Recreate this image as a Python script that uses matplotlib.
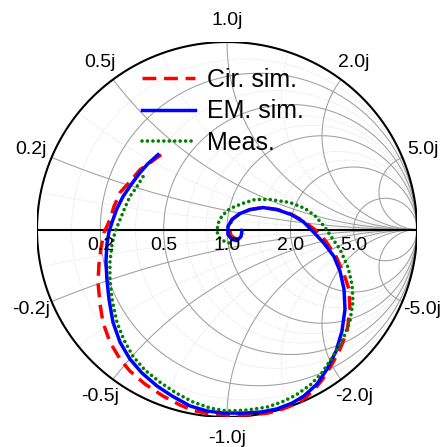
import numpy as np
import matplotlib; matplotlib.use("Agg")
import matplotlib.pyplot as plt

plt.rcParams['font.family'] = ['Liberation Sans', 'DejaVu Sans']

# reflection coefficient (re, im)
cir_re = [-0.347, -0.405, -0.458, -0.511, -0.563, -0.595, -0.616, -0.647, -0.663, -0.674,
          -0.679, -0.668, -0.653, -0.616, -0.563, -0.511, -0.432, -0.337, -0.247, -0.179,
          -0.089, 0.0, 0.105, 0.211, 0.295, 0.384, 0.453, 0.500, 0.553, 0.595,
          0.632, 0.647, 0.642, 0.616, 0.574, 0.521, 0.468, 0.405, 0.342, 0.268,
          0.189, 0.121, 0.068, 0.026, 0.011, 0.021, 0.047, 0.074, 0.089]
cir_im = [0.399, 0.356, 0.319, 0.255, 0.197, 0.122, 0.053, -0.016, -0.096, -0.186,
          -0.282, -0.399, -0.495, -0.601, -0.691, -0.755, -0.824, -0.888, -0.936, -0.965,
          -0.984, -0.990, -0.989, -0.980, -0.957, -0.920, -0.862, -0.803, -0.718, -0.638,
          -0.543, -0.426, -0.319, -0.239, -0.144, -0.064, -0.005, 0.043, 0.080, 0.106,
          0.117, 0.106, 0.085, 0.053, 0.011, -0.032, -0.053, -0.048, -0.021]

em_re = [-0.363, -0.416, -0.458, -0.505, -0.547, -0.579, -0.600, -0.621, -0.632, -0.637,
         -0.632, -0.621, -0.600, -0.563, -0.511, -0.447, -0.368, -0.289, -0.195, -0.105,
         -0.021, 0.089, 0.184, 0.263, 0.342, 0.405, 0.474, 0.526, 0.574, 0.605,
         0.621, 0.616, 0.595, 0.563, 0.511, 0.453, 0.400, 0.337, 0.263, 0.189,
         0.121, 0.068, 0.026, 0.005, 0.005, 0.026, 0.053, 0.074, 0.079]
em_im = [0.399, 0.351, 0.303, 0.239, 0.176, 0.112, 0.053, -0.011, -0.080, -0.170,
         -0.266, -0.372, -0.495, -0.601, -0.691, -0.766, -0.835, -0.888, -0.941, -0.968,
         -0.979, -0.979, -0.973, -0.957, -0.926, -0.888, -0.824, -0.745, -0.649, -0.543,
         -0.426, -0.319, -0.223, -0.144, -0.074, -0.011, 0.043, 0.080, 0.106, 0.117,
         0.106, 0.085, 0.053, 0.016, -0.027, -0.053, -0.059, -0.037, -0.005]

meas_re = [-0.442, -0.474, -0.511, -0.537, -0.563, -0.589, -0.605, -0.616, -0.616, -0.605,
           -0.579, -0.542, -0.495, -0.432, -0.353, -0.268, -0.179, -0.089, 0.0, 0.105,
           0.211, 0.289, 0.363, 0.437, 0.495, 0.558, 0.611, 0.647, 0.663, 0.658,
           0.637, 0.595, 0.558, 0.516, 0.468, 0.411, 0.332, 0.226, 0.147, 0.079,
           0.016, -0.026, -0.047, -0.053, -0.037, -0.005, 0.026]
meas_im = [0.282, 0.229, 0.176, 0.117, 0.053, -0.011, -0.080, -0.170, -0.266, -0.372,
           -0.495, -0.590, -0.676, -0.750, -0.814, -0.872, -0.920, -0.952, -0.968, -0.963,
           -0.947, -0.920, -0.883, -0.830, -0.771, -0.676, -0.585, -0.489, -0.388, -0.293,
           -0.202, -0.106, -0.053, 0.011, 0.069, 0.112, 0.144, 0.160, 0.160, 0.138,
           0.112, 0.074, 0.032, -0.011, -0.048, -0.069, -0.074]

major = [0.2, 0.5, 1.0, 2.0, 5.0]
minor_r = [0.1, 0.35, 0.65, 0.8, 1.4, 1.7]
minor_x = [0.1, 0.35, 0.7, 1.4]

def rcirc(r):
    t = np.linspace(0, 2*np.pi, 400)
    return r/(1+r) + np.cos(t)/(1+r), np.sin(t)/(1+r)

def xarc(x):
    rr = np.tan(np.linspace(0, np.pi/2*0.9995, 800))
    g = (rr + 1j*x - 1)/(rr + 1j*x + 1)
    return g.real, g.imag

fig = plt.figure(figsize=(4.45, 4.47), dpi=100)
ax = fig.add_axes([37/445, 30/447, 380/445, 375/447])
ax.set_xlim(-1, 1); ax.set_ylim(-1, 1); ax.axis("off")

for r in minor_r:
    ax.plot(*rcirc(r), color="0.86", lw=0.5, ls=(0, (2, 2)), zorder=1)
for x in minor_x:
    for s in (1, -1):
        ax.plot(*xarc(s*x), color="0.86", lw=0.5, ls=(0, (2, 2)), zorder=1)
for r in major:
    ax.plot(*rcirc(r), color="0.62", lw=0.75, zorder=2)
for x in major:
    for s in (1, -1):
        ax.plot(*xarc(s*x), color="0.62", lw=0.75, zorder=2)

t = np.linspace(0, 2*np.pi, 600)
ax.plot(np.cos(t), np.sin(t), color="k", lw=1.5, zorder=3)
ax.plot([-1, 1], [0, 0], color="k", lw=1.5, zorder=3)

for r in major:
    ax.text((r-1)/(r+1), -0.04, "%.1f" % r, ha="center", va="top", fontsize=14, zorder=6)
for x in major:
    for s in (1, -1):
        g = (1j*s*x - 1)/(1j*s*x + 1)
        ax.text(1.115*g.real, 1.115*g.imag, "%.1fj" % (s*x), ha="center", va="center",
                fontsize=14, clip_on=False)

ax.plot(cir_re, cir_im, color="red", lw=2.5, ls=(0, (4, 2.2)), label="Cir. sim.", zorder=4)
ax.plot(em_re, em_im, color="blue", lw=2.5, label="EM. sim.", zorder=5)
ax.plot(meas_re, meas_im, color="green", lw=2.6, ls=(0, (0.01, 1.5)), dash_capstyle="round",
        label="Meas.", zorder=5)

ax.legend(loc="upper left", bbox_to_anchor=(142/445, 1-68/447), bbox_transform=fig.transFigure,
          frameon=False, fontsize=18, handlelength=2.1, handletextpad=0.5,
          labelspacing=0.3, borderpad=0, borderaxespad=0)

fig.savefig("out.png", dpi=100)
